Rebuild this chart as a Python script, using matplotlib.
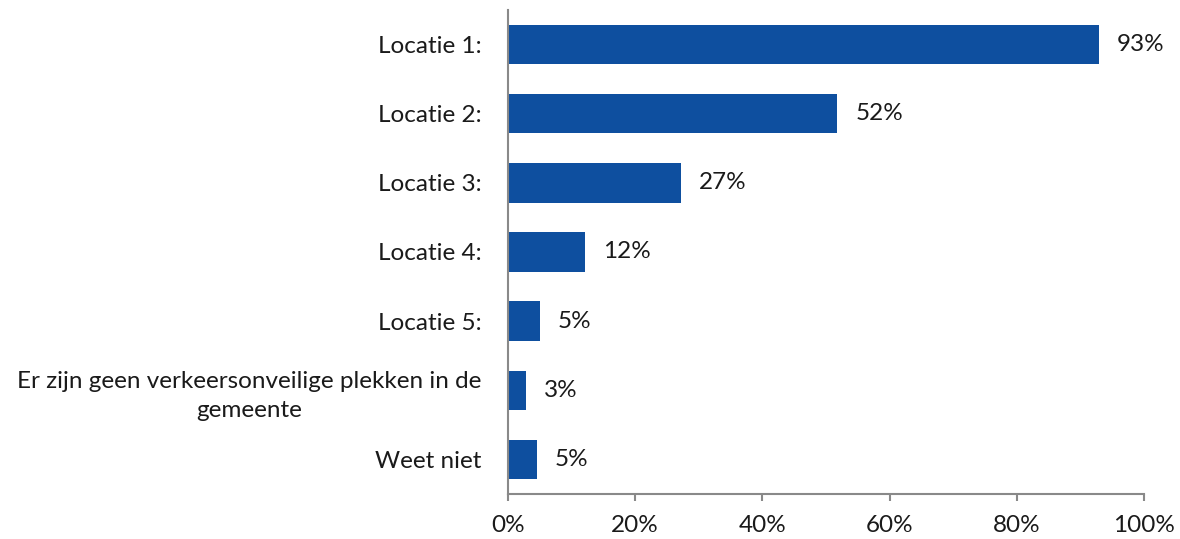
import matplotlib
matplotlib.use("Agg")
import matplotlib.pyplot as plt
from matplotlib.ticker import FuncFormatter

categories = ["Locatie 1:", "Locatie 2:", "Locatie 3:", "Locatie 4:", "Locatie 5:",
              "Er zijn geen verkeersonveilige plekken in de\ngemeente", "Weet niet"]
values = [92.9, 51.8, 27.2, 12.1, 5.0, 2.9, 4.6]
value_labels = ["93%", "52%", "27%", "12%", "5%", "3%", "5%"]
xticks = [0, 20, 40, 60, 80, 100]

plt.rcParams['font.family'] = ['Lato', 'DejaVu Sans']
FS = 17.5

fig = plt.figure(figsize=(11.8, 5.39), dpi=100)
ax = fig.add_axes([508/1180, 1-494/539, 636/1180, 484/539])

color = "#0E4F9F"
ypos = list(range(len(categories)))
ax.barh(ypos, values, height=0.57, color=color)
for y, v, lab in zip(ypos, values, value_labels):
    ax.text(v + 2.8, y, lab, va="center", ha="left", fontsize=FS, color="#1a1a1a")

ax.set_ylim(len(categories) - 0.5, -0.5)
ax.set_xlim(0, 100)
ax.set_yticks(ypos)
ax.set_yticklabels(categories, fontsize=FS, color="#1a1a1a")
ax.set_xticks(xticks)
ax.xaxis.set_major_formatter(FuncFormatter(lambda x, p: f"{int(x)}%"))
ax.tick_params(axis="x", length=5, width=1.5, color="#898989", labelsize=FS,
               labelcolor="#1a1a1a", pad=10)
ax.tick_params(axis="y", length=0, pad=19)

for lab in ax.get_yticklabels():
    lab.set_horizontalalignment("right")
    lab.set_multialignment("center")
    lab.set_linespacing(1.45)

for s in ["top", "right"]:
    ax.spines[s].set_visible(False)
for s in ["left", "bottom"]:
    ax.spines[s].set_color("#898989")
    ax.spines[s].set_linewidth(1.5)

fig.savefig("out.png", dpi=100)
